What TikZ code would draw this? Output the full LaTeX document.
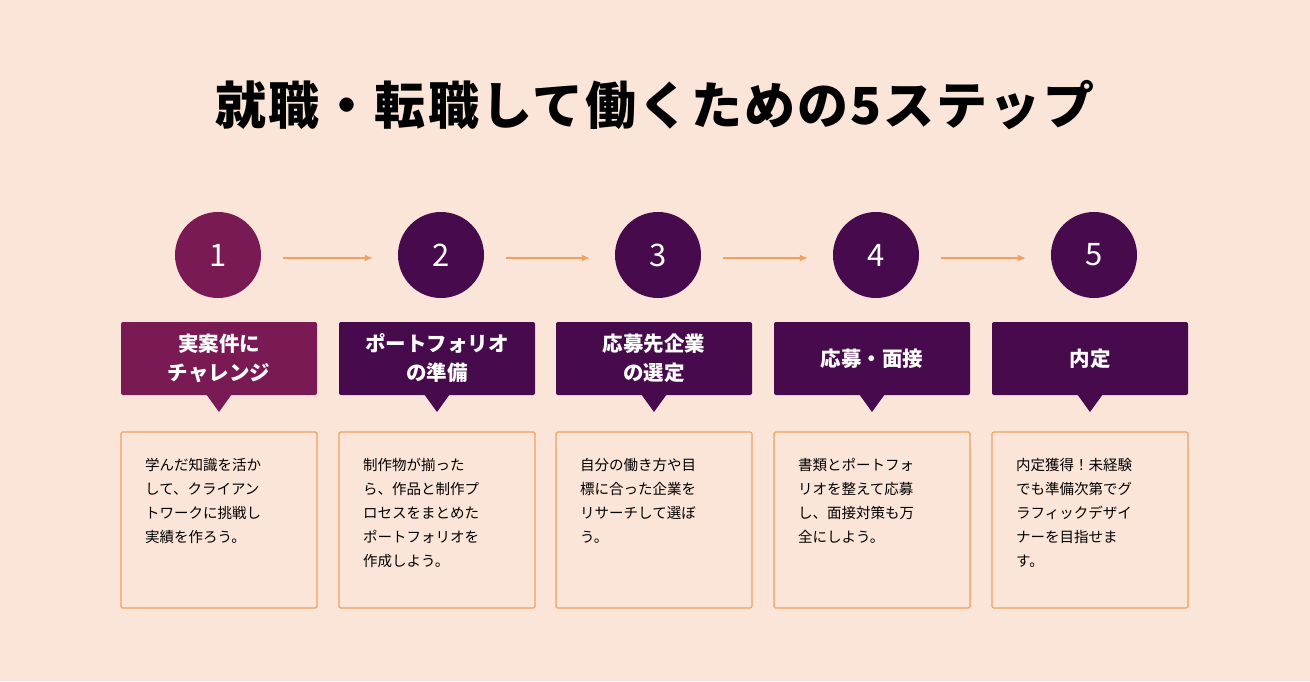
\documentclass[tikz,border=0pt]{standalone}
\usepackage{fontspec}
\usetikzlibrary{arrows.meta}
\setmainfont{Noto Sans CJK JP}
\newfontfamily\titlefont[LetterSpace=4]{Noto Sans CJK JP}
\definecolor{bg}{HTML}{FBE5D8}
\definecolor{pa}{HTML}{7A1A55}
\definecolor{pb}{HTML}{470A4D}
\definecolor{org}{HTML}{F0A060}
\begin{document}
\begin{tikzpicture}[x=1pt,y=-1pt,
 circ/.style={circle,minimum size=86pt,inner sep=0,text=white,font=\fontsize{31}{31}\selectfont},
 head/.style={minimum width=196pt,minimum height=73pt,rounded corners=2pt,text=white,align=center,font=\bfseries\fontsize{20.5}{29}\selectfont},
 desc/.style={draw=org,line width=1.2pt,minimum width=196pt,minimum height=176pt,rounded corners=1.5pt},
 body/.style={anchor=north west,align=left,inner sep=0,font=\fontsize{14.5}{24}\selectfont},
 arr/.style={draw=org,line width=1.5pt,-{Latex[length=8pt,width=7pt]}}]
\useasboundingbox (0,0) rectangle (1310,681);
\fill[bg] (0,0) rectangle (1310,681);
\node[font=\titlefont\bfseries\fontsize{51}{51}\selectfont] (title) at (655,105) {就職・転職して働くための5ステップ};
\foreach \i/\cx/\ox/\col/\h/\t in {
 1/219/218/pa/{実案件に\\チャレンジ}/{学んだ知識を活か\\して、クライアン\\トワークに挑戦し\\実績を作ろう。},
 2/437/441/pb/{ポートフォリオ\\の準備}/{制作物が揃った\\ら、作品と制作プ\\ロセスをまとめた\\ポートフォリオを\\作成しよう。},
 3/654/658/pb/{応募先企業\\の選定}/{自分の働き方や目\\標に合った企業を\\リサーチして選ぼ\\う。},
 4/872/876/pb/{応募・面接}/{書類とポートフォ\\リオを整えて応募\\し、面接対策も万\\全にしよう。},
 5/1090/1094/pb/{内定}/{内定獲得！未経験\\でも準備次第でグ\\ラフィックデザイ\\ナーを目指せま\\す。}}{
 \node[circ,fill=\col] (c\i) at (\ox,255) {\i};
 \node[head,fill=\col] (h\i) at (\cx,358.5) {\h};
 \fill[\col] (\cx-13,394) -- (\cx+13,394) -- (\cx,412) -- cycle;
 \node[desc] (d\i) at (\cx,520) {};
 \node[body] (t\i) at (\cx-74,458) {\t};
}
\foreach \a/\b in {1/2,2/3,3/4,4/5}{
 \draw[arr] ([shift={(22,3)}]c\a.east) -- ([shift={(-25,3)}]c\b.west);
}
\end{tikzpicture}
\end{document}
